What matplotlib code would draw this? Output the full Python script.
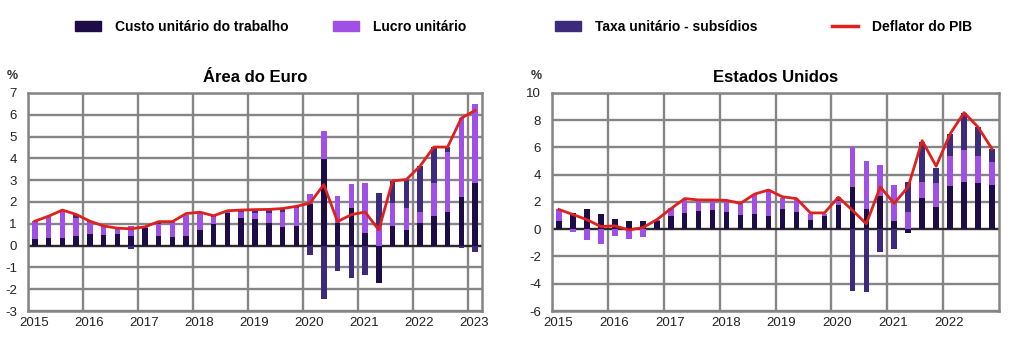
import matplotlib
matplotlib.use("Agg")
import matplotlib.pyplot as plt
import matplotlib.transforms as mtransforms
from matplotlib.patches import Patch
from matplotlib.lines import Line2D
import numpy as np

plt.rcParams['font.family'] = ['Liberation Sans', 'DejaVu Sans']
plt.rcParams['axes.unicode_minus'] = False

# ---------------- data ----------------
series_names = ["Custo unitário do trabalho", "Lucro unitário",
                "Taxa unitário - subsídios", "Deflator do PIB"]
titles = ["Área do Euro", "Estados Unidos"]

# Euro area, 2015Q1 - 2023Q1
custo_ea = [0.30, 0.35, 0.35, 0.45, 0.53, 0.50, 0.55, 0.45, 0.80, 0.43, 0.38, 0.43,
            0.70, 1.00, 1.50, 1.28, 1.20, 1.05, 0.85, 0.92, 1.90, 3.95, 1.03, 1.72,
            0.57, -1.70, 0.88, 0.72, 1.05, 1.38, 1.54, 2.25, 2.85]
lucro_ea = [0.82, 1.00, 1.25, 0.80, 0.55, 0.45, 0.25, 0.45, 0.05, 0.55, 0.70, 0.97,
            0.80, 0.30, 0.10, 0.25, 0.30, 0.45, 0.70, 0.80, 0.45, 1.30, 1.23, 1.10,
            2.31, 0.88, 1.07, 1.00, 0.47, 1.50, 2.76, 3.60, 3.65]
taxa_ea = [0.00, 0.00, 0.00, 0.15, 0.05, 0.00, 0.00, -0.15, 0.00, 0.10, 0.00, 0.00,
           0.00, 0.05, 0.00, 0.10, 0.15, 0.15, 0.15, 0.10, -0.43, -2.43, -1.17, -1.48,
           -1.35, 1.52, 1.02, 1.28, 2.15, 1.62, 0.22, -0.10, -0.30]
deflator_ea = [1.12, 1.35, 1.63, 1.43, 1.12, 0.90, 0.80, 0.77, 0.86, 1.10, 1.10, 1.47,
               1.53, 1.37, 1.60, 1.63, 1.65, 1.66, 1.70, 1.80, 1.95, 2.80, 1.10, 1.42,
               1.54, 0.72, 2.97, 3.03, 3.65, 4.52, 4.52, 5.85, 6.20]

# United States, 2015Q1 - 2022Q4
custo_us = [0.58, 1.20, 1.45, 1.15, 0.75, 0.62, 0.62, 0.58, 1.00, 1.20, 1.32, 1.40,
            1.25, 1.07, 1.12, 1.00, 1.50, 1.25, 0.70, 1.00, 1.75, 3.10, 1.50, 2.45,
            0.60, -0.25, 2.32, 1.60, 3.20, 3.44, 3.37, 3.25]
lucro_us = [0.87, -0.18, -0.80, -1.05, -0.50, -0.68, -0.55, 0.10, 0.58, 1.00, 0.76, 0.68,
            0.83, 0.76, 1.46, 1.83, 0.83, 0.95, 0.45, 0.15, 0.35, 2.90, 3.50, 2.30,
            2.65, 1.30, 1.12, 1.77, 2.17, 2.36, 2.03, 1.65]
taxa_us = [0.00, 0.00, 0.00, 0.00, 0.00, 0.00, 0.00, 0.00, 0.00, 0.00, 0.00, 0.00,
           0.00, 0.00, 0.00, 0.00, 0.00, 0.00, 0.00, 0.00, 0.25, -4.55, -4.60, -1.68,
           -1.45, 2.15, 3.00, 1.13, 1.63, 2.70, 2.10, 1.00]
deflator_us = [1.45, 1.08, 0.70, 0.20, 0.25, -0.05, 0.12, 0.70, 1.50, 2.25, 2.15, 2.15,
               2.12, 1.90, 2.58, 2.88, 2.38, 2.25, 1.20, 1.20, 2.35, 1.40, 0.40, 3.10,
               1.90, 3.12, 6.50, 4.63, 7.00, 8.56, 7.50, 5.90]

start_year = 2015
years_ea = list(range(2015, 2024))
years_us = list(range(2015, 2023))

# ---------------- style ----------------
C_CUSTO = "#1e0c46"
C_LUCRO = "#a050e6"
C_TAXA = "#3e2a7c"
C_LINE = "#e0201c"
GRID = "#858585"

fig = plt.figure(figsize=(10.24, 3.56), dpi=100)
ax1 = fig.add_axes([28/1024, 1-311/356, 454/1024, 218/356])
ax2 = fig.add_axes([552/1024, 1-311/356, 447/1024, 218/356])


def draw(ax, comps, colors, deflator, title, xlim, ylim, yticks, xticks):
    n = len(deflator)
    x = start_year + (np.arange(n) + 0.5) / 4.0
    pos = np.zeros(n)
    neg = np.zeros(n)
    for vals, col in zip(comps, colors):
        v = np.array(vals)
        b = np.where(v >= 0, pos, neg)
        ax.bar(x, v, bottom=b, width=0.1, color=col, zorder=3, linewidth=0)
        pos = pos + np.where(v >= 0, v, 0)
        neg = neg + np.where(v < 0, v, 0)
    ax.plot(x, deflator, color=C_LINE, lw=2.0, zorder=4)
    ax.set_xlim(*xlim)
    ax.set_ylim(*ylim)
    ax.set_yticks(yticks)
    ax.set_xticks(xticks)
    ax.set_xticklabels([str(t) for t in xticks])
    ax.grid(True, color=GRID, lw=1.7, zorder=0)
    ax.axhline(0, color="#2a2a2a", lw=1.6, zorder=2)
    for s in ax.spines.values():
        s.set_color(GRID)
        s.set_linewidth(1.8)
    ax.tick_params(length=0, labelsize=9.5, colors="#222222")
    ax.tick_params(axis="y", pad=8)
    ax.tick_params(axis="x", pad=4)
    off = mtransforms.ScaledTranslation(0.06, 0, fig.dpi_scale_trans)
    for lab in ax.get_xticklabels():
        lab.set_transform(lab.get_transform() + off)
    ax.set_title(title, fontsize=12, fontweight="bold", pad=8)
    ax.text(-0.035, 1.08, "%", transform=ax.transAxes, fontsize=9,
            fontweight="bold", ha="center", va="center", color="#333333")


draw(ax1, [custo_ea, lucro_ea, taxa_ea], [C_CUSTO, C_LUCRO, C_TAXA], deflator_ea,
     titles[0], (2015, 2023.25), (-3, 7), list(range(-3, 8)), years_ea)
draw(ax2, [custo_us, lucro_us, taxa_us], [C_CUSTO, C_LUCRO, C_TAXA], deflator_us,
     titles[1], (2015, 2023), (-6, 10), list(range(-6, 11, 2)), years_us)

# ---------------- legend ----------------
handles = [Patch(color=C_CUSTO), Patch(color=C_LUCRO), Patch(color=C_TAXA),
           Line2D([], [], color=C_LINE, lw=2.5)]
xs = [75, 333, 555, 832]
for h, name, xp in zip(handles, series_names, xs):
    fig.legend([h], [name], loc="center left", bbox_to_anchor=(xp/1024, 1-27/356),
               frameon=False, borderpad=0, borderaxespad=0, handlelength=1.9,
               handletextpad=0.95, prop={"size": 10, "weight": "bold"})

fig.savefig("out.png", dpi=100)
